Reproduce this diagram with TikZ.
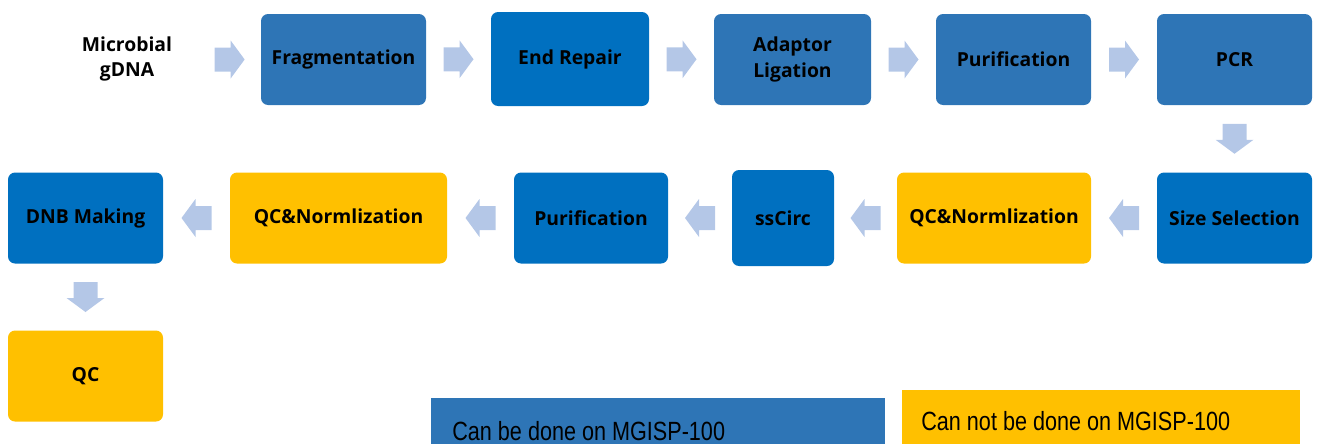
\documentclass[tikz,border=0pt]{standalone}
\usepackage{fontspec}
\setmainfont{Open Sans}
\newfontfamily\legfont{Liberation Sans}
\usetikzlibrary{calc}

\definecolor{stepblue}{HTML}{2E75B6}
\definecolor{deepblue}{HTML}{0070C0}
\definecolor{stepgold}{HTML}{FFC000}
\definecolor{arrowblue}{HTML}{B4C7E7}

\tikzset{
  stepbox/.style={rounded corners=4pt, inner sep=2pt, align=center,
    text=black, font=\fontsize{11}{15}\selectfont\bfseries,
    minimum height=91*0.02cm},
  bluebox/.style={stepbox, fill=stepblue},
  deepbox/.style={stepbox, fill=deepblue},
  goldbox/.style={stepbox, fill=stepgold},
  legtext/.style={inner sep=0pt, text=black, font=\legfont\fontsize{15}{17}\selectfont},
  blockarr/.pic={
    \fill[arrowblue] (-15,-12) -- (1,-12) -- (1,-19) -- (15,0)
      -- (1,19) -- (1,12) -- (-15,12) -- cycle;
  }
}

\begin{document}
\begin{tikzpicture}[x=0.02cm, y=-0.02cm]
  \useasboundingbox (0,0) rectangle (1318,444);

  % first row
  \node[align=center, font=\fontsize{11}{14.5}\selectfont\bfseries] (gdna) at (127,59) {Microbial\\gDNA};
  \node[bluebox, minimum width=165*0.02cm] (frag) at (343.5,59.5) {Fragmentation};
  \node[deepbox, minimum width=158*0.02cm, minimum height=94*0.02cm] (endrep) at (570,59) {End Repair};
  \node[bluebox, minimum width=157*0.02cm] (adapt) at (792.5,59.5) {Adaptor\\Ligation};
  \node[bluebox, minimum width=155*0.02cm] (purA) at (1013.5,59.5) {Purification};
  \node[bluebox, minimum width=155*0.02cm] (pcr) at (1234.5,59.5) {PCR};

  % second row
  \node[deepbox, minimum width=155*0.02cm] (sizesel) at (1234.5,218) {Size Selection};
  \node[goldbox, minimum width=194*0.02cm] (qcnA) at (994,218) {QC\&Normlization};
  \node[deepbox, minimum width=102*0.02cm, minimum height=96*0.02cm] (circ) at (783,218) {ssCirc};
  \node[deepbox, minimum width=154*0.02cm] (purB) at (591,218) {Purification};
  \node[goldbox, minimum width=217*0.02cm] (qcnB) at (338.5,218) {QC\&Normlization};
  \node[deepbox, minimum width=155*0.02cm] (dnb) at (85.5,218) {DNB Making};

  % last step
  \node[goldbox, minimum width=155*0.02cm] (qc) at (85.5,376) {QC};

  % block arrows
  \path ($(frag.west)+(-31,0)$) pic {blockarr};
  \path ($(frag.east)!0.5!(endrep.west)$) pic {blockarr};
  \path ($(endrep.east)!0.5!(adapt.west)$) pic {blockarr};
  \path ($(adapt.east)!0.5!(purA.west)$) pic {blockarr};
  \path ($(purA.east)!0.5!(pcr.west)$) pic {blockarr};
  \path ($(pcr.south)!0.5!(sizesel.north)$) pic[rotate=-90] {blockarr};
  \path ($(sizesel.west)!0.5!(qcnA.east)$) pic[rotate=180] {blockarr};
  \path ($(qcnA.west)!0.5!(circ.east)$) pic[rotate=180] {blockarr};
  \path ($(circ.west)!0.5!(purB.east)$) pic[rotate=180] {blockarr};
  \path ($(purB.west)!0.5!(qcnB.east)$) pic[rotate=180] {blockarr};
  \path ($(qcnB.west)!0.5!(dnb.east)$) pic[rotate=180] {blockarr};
  \path ($(dnb.south)!0.5!(qc.north)$) pic[rotate=-90] {blockarr};

  % legend
  \node[fill=stepblue, inner sep=0pt, anchor=north west,
    minimum width=454*0.02cm, minimum height=46*0.02cm] (legA) at (431,398) {};
  \node[legtext, anchor=base west] (legAtext) at ($(legA.south west)+(21,-4)$)
    {\scalebox{0.82}[1]{Can be done on MGISP-100}};
  \node[fill=stepgold, inner sep=0pt, anchor=north west,
    minimum width=398*0.02cm, minimum height=54*0.02cm] (legB) at (902,390) {};
  \node[legtext, anchor=base west] (legBtext) at ($(legB.south west)+(19,-14)$)
    {\scalebox{0.82}[1]{Can not be done on MGISP-100}};
\end{tikzpicture}
\end{document}
